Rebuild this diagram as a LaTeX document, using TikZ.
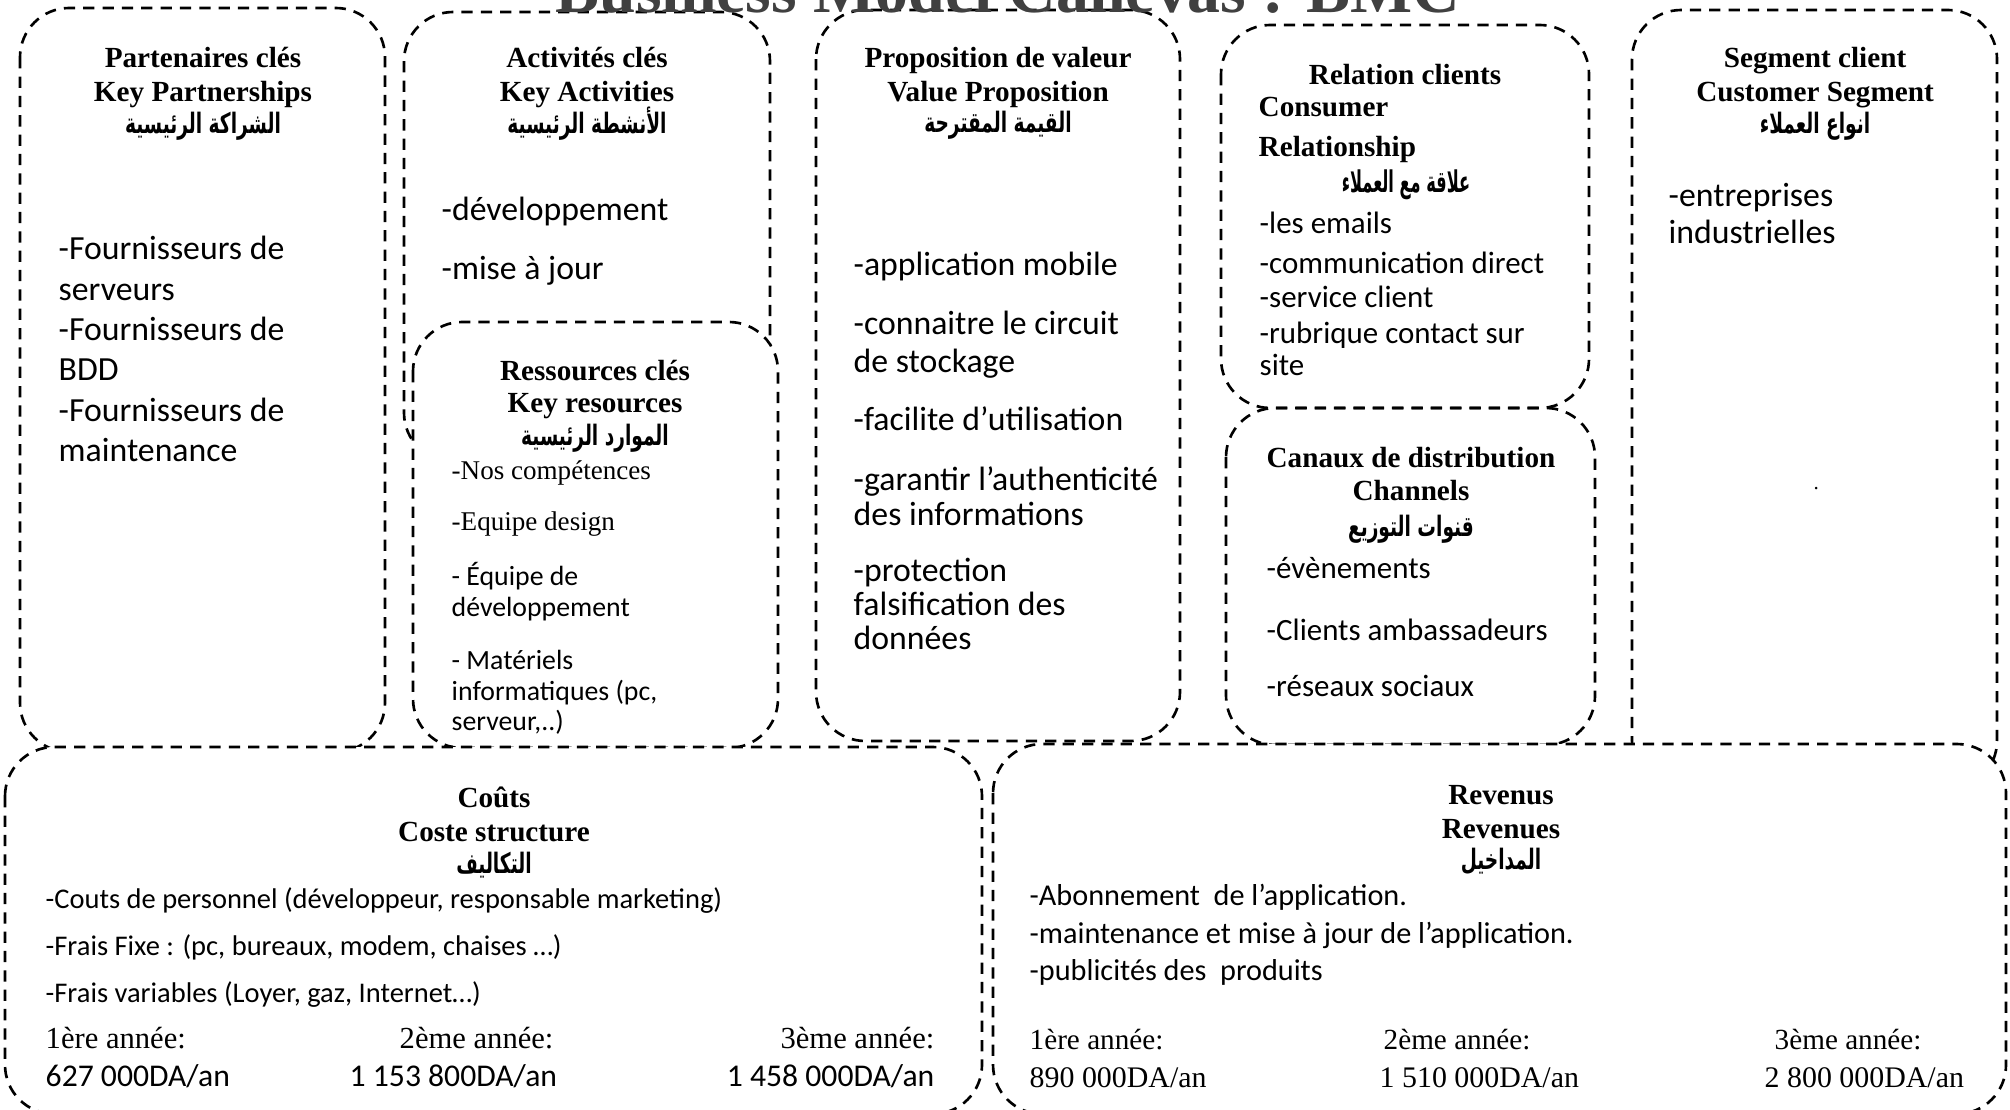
\documentclass[tikz,border=0pt]{standalone}
\usepackage{fontspec}
\setmainfont{Liberation Serif}
\newfontfamily\bodyfont{Carlito}
\newfontfamily\arabicfont[Script=Arabic]{DejaVu Sans}
\TeXXeTstate=1
\newcommand{\setsz}[1]{\fontsize{#1}{#1}\selectfont}
\newcommand{\arabtxt}[1]{{\arabicfont\bfseries\beginR #1\endR}}

\begin{document}
\begin{tikzpicture}[x=0.01cm,y=-0.01cm,
  bmcbox/.style={line width=0.75pt,dash pattern=on 3.2pt off 2.3pt,rounded corners=14pt},
  hd/.style={anchor=base,inner sep=0pt,font=\bfseries\setsz{8.3}},
  ar/.style={anchor=base,inner sep=0pt,font=\setsz{8},xscale=0.66},
  itm/.style={anchor=base west,inner sep=0pt,font=\bodyfont\setsz{9.6}},
  itmsm/.style={itm,font=\bodyfont\setsz{8.8}},
  yr/.style={inner sep=0pt,font=\setsz{8.7}}]
  \useasboundingbox (0,0) rectangle (2010,1110);
  \clip (0,0) rectangle (2010,1110);

  % blocks of the canvas
  \draw[bmcbox] (20,8) rectangle (385,752);
  \draw[bmcbox] (404,12) rectangle (770,462);
  \draw[bmcbox,fill=white] (413,322) rectangle (778,748);
  \draw[bmcbox] (816,10) rectangle (1180,741);
  \draw[bmcbox] (1632,10) rectangle (1997,790);
  \draw[bmcbox] (1221,25) rectangle (1589,408);
  \draw[bmcbox] (1226,408) rectangle (1595,745);
  \draw[bmcbox,fill=white] (5,747) rectangle (982,1114);
  \draw[bmcbox,fill=white] (993,744) rectangle (2006,1114);

  \node[anchor=base,inner sep=0pt,font=\bfseries\setsz{18.7},text=black!75] (title) at (1008,13) {Business Model Canevas : BMC};

  % partenaires
  \node[hd] (partA) at (203,68) {Partenaires clés};
  \node[hd] (partB) at (203,102) {Key Partnerships};
  \node[ar] (partC) at (203,134) {\arabtxt{الشراكة الرئيسية}};
  \foreach \txt/\yy [count=\i] in {-Fournisseurs de/260,serveurs/301,-Fournisseurs de/341,BDD/381,-Fournisseurs de/422,maintenance/462}
    \node[itm] (part\i) at (58,\yy) {\txt};

  % activites
  \node[hd] (actA) at (587,68) {Activités clés};
  \node[hd] (actB) at (587,102) {Key Activities};
  \node[ar] (actC) at (587,134) {\arabtxt{الأنشطة الرئيسية}};
  \node[itm] (act1) at (441,221) {-développement};
  \node[itm] (act2) at (441,280) {-mise à jour};

  % ressources
  \node[hd] (resA) at (595,381) {Ressources clés};
  \node[hd] (resB) at (595,413) {Key resources};
  \node[ar] (resC) at (595,446) {\arabtxt{الموارد الرئيسية}};
  \node[itm,font=\setsz{7.7}] (res1) at (451,479) {-Nos compétences};
  \node[itm,font=\setsz{7.7}] (res2) at (451,531) {-Equipe design};
  \foreach \txt/\yy [count=\i from 3] in {- Équipe de/585,développement/616,- Matériels/669,{informatiques (pc,}/700,{serveur,..)}/730}
    \node[itm,font=\bodyfont\setsz{7.9}] (res\i) at (451,\yy) {\txt};

  % proposition de valeur
  \node[hd] (valA) at (998,68) {Proposition de valeur};
  \node[hd] (valB) at (998,102) {Value Proposition};
  \node[ar] (valC) at (998,133) {\arabtxt{القيمة المقترحة}};
  \foreach \txt/\yy [count=\i] in {-application mobile/276,-connaitre le circuit/335,de stockage/373,-facilite d’utilisation/431,-garantir l’authenticité/491,des informations/526,-protection/581,falsification des/615,données/649}
    \node[itm] (val\i) at (853,\yy) {\txt};

  % relation clients
  \node[hd] (relA) at (1405,85) {Relation clients};
  \node[hd,anchor=base west] (relB) at (1258,117) {Consumer};
  \node[hd,anchor=base west] (relC) at (1258,157) {Relationship};
  \node[ar,font=\setsz{8.5},xscale=0.82] (relD) at (1406,193) {\arabtxt{علاقة مع العملاء}};
  \foreach \txt/\yy [count=\i] in {-les emails/234,-communication direct/274,-service client/308,-rubrique contact sur/344,site/376}
    \node[itmsm] (rel\i) at (1259,\yy) {\txt};

  % canaux
  \node[hd] (canA) at (1411,468) {Canaux de distribution};
  \node[hd] (canB) at (1411,501) {Channels};
  \node[ar] (canC) at (1411,537) {\arabtxt{قنوات التوزيع}};
  \foreach \txt/\yy [count=\i] in {-évènements/578,-Clients ambassadeurs/640,-réseaux sociaux/696}
    \node[itmsm] (can\i) at (1266,\yy) {\txt};

  % segment client
  \node[hd] (segA) at (1815,68) {Segment client};
  \node[hd] (segB) at (1815,102) {Customer Segment};
  \node[ar] (segC) at (1815,134) {\arabtxt{انواع العملاء}};
  \node[itm] (seg1) at (1668,207) {-entreprises};
  \node[itm] (seg2) at (1668,244) {industrielles};
  \node[itm,font=\setsz{6}] (segdot) at (1813,490) {.};

  % couts
  \node[hd] (costA) at (494,807) {Coûts};
  \node[hd] (costB) at (494,841) {Coste structure};
  \node[ar] (costC) at (494,873) {\arabtxt{التكاليف}};
  \node[itm,font=\bodyfont\setsz{8.1}] (cost1) at (45,908) {-Couts de personnel (développeur, responsable marketing)};
  \node[itm,font=\bodyfont\setsz{8.1}] (cost2) at (45,955) {-Frais Fixe : (pc, bureaux, modem, chaises …)};
  \node[itm,font=\bodyfont\setsz{8.1}] (cost3) at (45,1002) {-Frais variables (Loyer, gaz, Internet…)};
  \node[yr,anchor=base west] (costY1) at (45,1048) {1ère année:};
  \node[yr,anchor=base west] (costY2) at (399,1048) {2ème année:};
  \node[yr,anchor=base east] (costY3) at (935,1048) {3ème année:};
  \node[yr,anchor=base west,font=\bodyfont\setsz{9}] (costM1) at (45,1086) {627 000DA/an};
  \node[yr,anchor=base west,font=\bodyfont\setsz{9}] (costM2) at (349,1086) {1 153 800DA/an};
  \node[yr,anchor=base east,font=\bodyfont\setsz{9}] (costM3) at (935,1086) {1 458 000DA/an};

  % revenus
  \node[hd] (revA) at (1501,804) {Revenus};
  \node[hd] (revB) at (1501,838) {Revenues};
  \node[ar] (revC) at (1501,869) {\arabtxt{المداخيل}};
  \node[itm,font=\bodyfont\setsz{8.6}] (rev1) at (1029,905) {-Abonnement\ \ de l’application.};
  \node[itm,font=\bodyfont\setsz{8.6}] (rev2) at (1029,943) {-maintenance et mise à jour de l’application.};
  \node[itm,font=\bodyfont\setsz{8.6}] (rev3) at (1029,980) {-publicités des\ \ produits};
  \node[yr,anchor=base west,font=\setsz{8.3}] (revY1) at (1029,1049) {1ère année:};
  \node[yr,anchor=base west,font=\setsz{8.3}] (revY2) at (1383,1049) {2ème année:};
  \node[yr,anchor=base west,font=\setsz{8.3}] (revY3) at (1774,1049) {3ème année:};
  \node[yr,anchor=base west,font=\setsz{8.5}] (revM1) at (1029,1087) {890 000DA/an};
  \node[yr,anchor=base west,font=\setsz{8.5}] (revM2) at (1379,1087) {1 510 000DA/an};
  \node[yr,anchor=base west,font=\setsz{8.5}] (revM3) at (1764,1087) {2 800 000DA/an};
\end{tikzpicture}
\end{document}
